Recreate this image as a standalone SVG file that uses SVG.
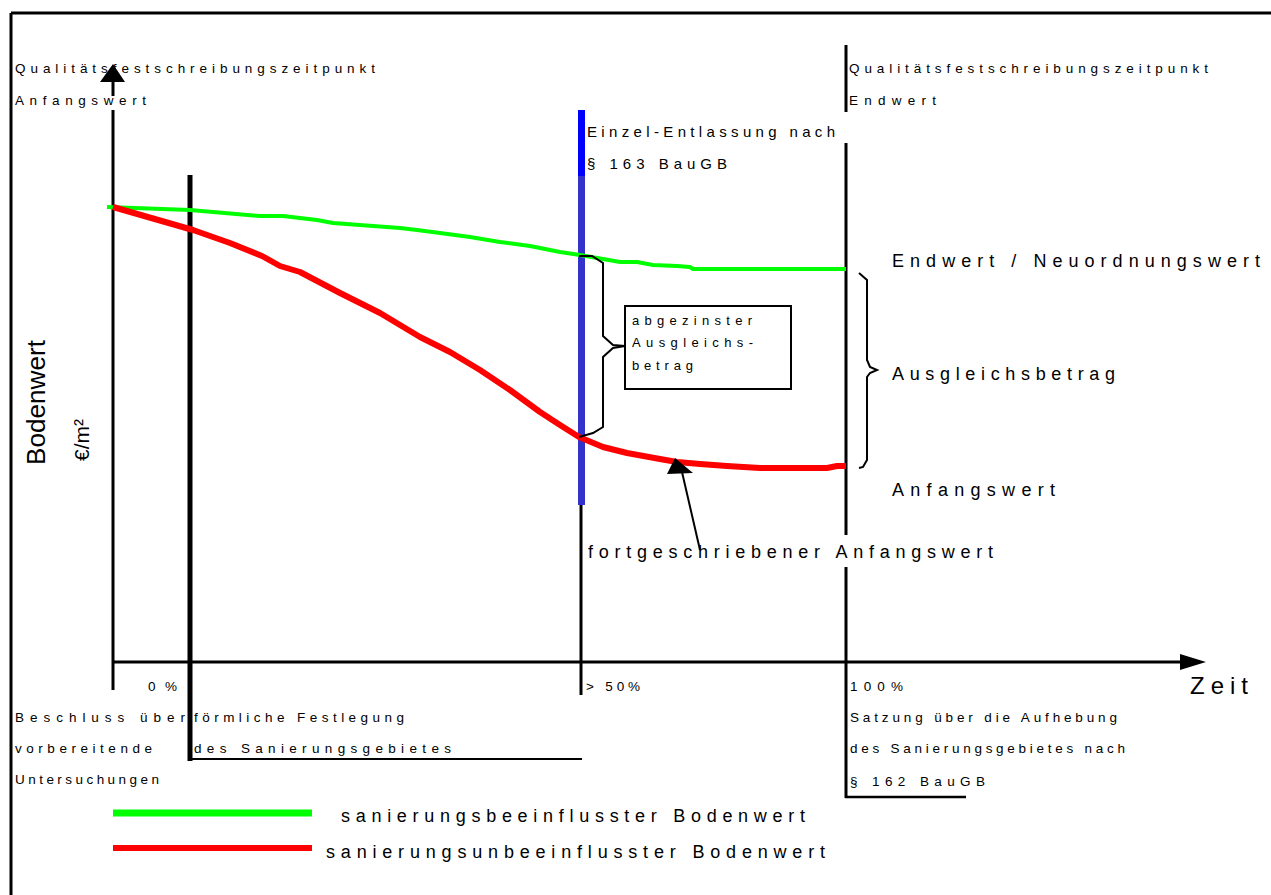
<svg xmlns="http://www.w3.org/2000/svg" width="1271" height="895" viewBox="0 0 1271 895">
<style>
text{font-family:"Liberation Sans",Arial,sans-serif;fill:#000}
.s{font-size:13.5px}.m{font-size:15px}.l{font-size:18px}.b{font-size:13.5px}.bx{font-size:13px}
.ln{stroke:#000;fill:none}
</style>
<rect width="1271" height="895" fill="#fff"/>
<g id="frame" class="ln">
<line x1="11" y1="13" x2="1271" y2="13" stroke-width="3"/>
<line x1="11" y1="13" x2="11" y2="895" stroke-width="3"/>
</g>
<g id="connectors">
<line class="ln" x1="113" y1="82" x2="113" y2="96" stroke-width="3"/>
<line class="ln" x1="113" y1="110" x2="113" y2="690" stroke-width="3"/>
<polygon points="113,64 100,82 125,82" fill="#000"/>
<line class="ln" x1="113" y1="662" x2="1182" y2="662" stroke-width="3"/>
<polygon points="1206,662 1180,654 1180,670" fill="#000"/>
<line class="ln" x1="190" y1="175" x2="190" y2="761" stroke-width="5"/>
<line class="ln" x1="188" y1="759" x2="582" y2="759" stroke-width="2"/>
<line x1="581.5" y1="110" x2="581.5" y2="176" stroke="#0000ff" stroke-width="7"/>
<line x1="581.5" y1="176" x2="581.5" y2="505" stroke="#3333cc" stroke-width="7"/>
<line class="ln" x1="581" y1="505" x2="581" y2="695" stroke-width="3"/>
<line class="ln" x1="846" y1="45" x2="846" y2="112" stroke-width="3"/>
<line class="ln" x1="846" y1="143" x2="846" y2="535" stroke-width="3"/>
<line class="ln" x1="846" y1="567" x2="846" y2="798" stroke-width="3"/>
<line class="ln" x1="845" y1="797" x2="966" y2="797" stroke-width="2.5"/>
<polyline fill="none" stroke="#00ff00" stroke-width="4" stroke-linejoin="round" points="107,207 190,210 260,216 283,216 317,220 333,223 400,228 417,230 440,233 470,237 500,242 530,246 560,252 580,255 603,259 620,262 637,262 653,265 677,266 690,267 693,269 846,269"/>
<polyline fill="none" stroke="#ff0000" stroke-width="6" stroke-linejoin="round" points="113,207 193,230 230,243 262,256 280,266 300,272 340,293 380,313 420,337 450,352 480,370 510,390 540,412 560,425 579,437 603,447 627,453 660,459 677,462 700,464 727,466 760,468 827,468 837,466 846,466"/>
<path class="ln" stroke-width="2" d="M579,256 L592,256 L603,263 L603,336 L613,345 L625,346 L613,348 L603,357 L603,427 L593,433 L579,437"/>
<path class="ln" stroke-width="2" d="M859,273 L867,280 L867,360 L870,367 L877,370 L870,373 L867,377 L867,460 L863,467 L859,468"/>
<line class="ln" x1="700" y1="550" x2="682" y2="472" stroke-width="2"/>
<polygon points="675,458 667,474 693,473" fill="#000"/>
<line x1="113" y1="813" x2="312" y2="813" stroke="#00ff00" stroke-width="7"/>
<line x1="113" y1="848" x2="312" y2="848" stroke="#ff0000" stroke-width="6"/>
</g>
<g id="box">
<rect x="625" y="306" width="166" height="83" fill="none" stroke="#000" stroke-width="2"/>
<text class="bx" x="632" y="325" textLength="120" lengthAdjust="spacing">abgezinster</text>
<text class="bx" x="632" y="347" textLength="121" lengthAdjust="spacing">Ausgleichs-</text>
<text class="bx" x="632" y="370" textLength="61" lengthAdjust="spacing">betrag</text>
</g>
<g id="top-labels">
<text class="s" x="15" y="73" textLength="360" lengthAdjust="spacing">Qualitätsfestschreibungszeitpunkt</text>
<text class="s" x="15" y="105" textLength="131" lengthAdjust="spacing">Anfangswert</text>
<text class="s" x="849" y="73" textLength="359" lengthAdjust="spacing">Qualitätsfestschreibungszeitpunkt</text>
<text class="s" x="849" y="105" textLength="87" lengthAdjust="spacing">Endwert</text>
<text class="m" x="587" y="137" textLength="248" lengthAdjust="spacing">Einzel-Entlassung nach</text>
<text class="m" x="587" y="169" textLength="140" lengthAdjust="spacing">§ 163 BauGB</text>
</g>
<g id="right-labels">
<text class="l" x="892" y="267" textLength="368" lengthAdjust="spacing">Endwert / Neuordnungswert</text>
<text class="l" x="892" y="380" textLength="223" lengthAdjust="spacing">Ausgleichsbetrag</text>
<text class="l" x="892" y="496" textLength="163" lengthAdjust="spacing">Anfangswert</text>
<text class="l" x="588" y="558" textLength="405" lengthAdjust="spacing">fortgeschriebener Anfangswert</text>
</g>
<g id="axis-labels">
<text transform="translate(45,465) rotate(-90)" style="font-size:25px" textLength="125" lengthAdjust="spacingAndGlyphs">Bodenwert</text>
<text transform="translate(89,461) rotate(-90)" style="font-size:21px">€/m²</text>
<text style="font-size:24px" x="1190" y="694" textLength="58" lengthAdjust="spacing">Zeit</text>
</g>
<g id="bottom-labels">
<text class="b" x="148" y="691" textLength="29" lengthAdjust="spacing">0%</text>
<text class="b" x="586" y="691" textLength="54" lengthAdjust="spacing">&gt; 50%</text>
<text class="b" x="850" y="691" textLength="53" lengthAdjust="spacing">100%</text>
<text class="b" x="15" y="722" textLength="170" lengthAdjust="spacing">Beschluss über</text>
<text class="b" x="194" y="722" textLength="210" lengthAdjust="spacing">förmliche Festlegung</text>
<text class="b" x="15" y="753" textLength="137" lengthAdjust="spacing">vorbereitende</text>
<text class="b" x="194" y="753" textLength="257" lengthAdjust="spacing">des Sanierungsgebietes</text>
<text class="b" x="15" y="784" textLength="144" lengthAdjust="spacing">Untersuchungen</text>
<text class="b" x="850" y="722" textLength="267" lengthAdjust="spacing">Satzung über die Aufhebung</text>
<text class="b" x="850" y="753" textLength="275" lengthAdjust="spacing">des Sanierungsgebietes nach</text>
<text class="b" x="850" y="786" textLength="135" lengthAdjust="spacing">§ 162 BauGB</text>
</g>
<g id="legend">
<text class="l" x="341" y="822" textLength="464" lengthAdjust="spacing">sanierungsbeeinflusster Bodenwert</text>
<text class="l" x="326" y="858" textLength="499" lengthAdjust="spacing">sanierungsunbeeinflusster Bodenwert</text>
</g>
</svg>
